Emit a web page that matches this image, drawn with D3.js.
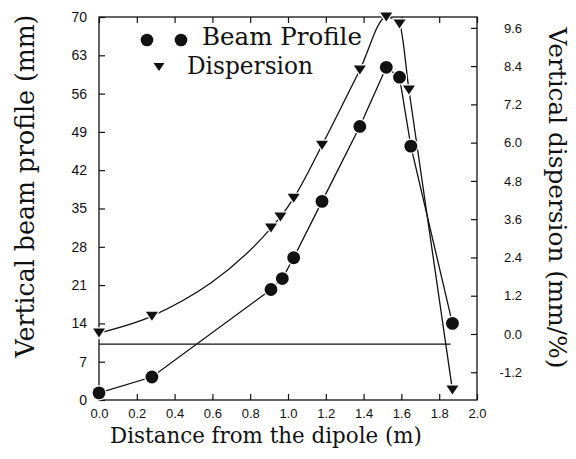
<!DOCTYPE html>
<html><head><meta charset="utf-8">
<script src="https://cdn.jsdelivr.net/npm/d3@7"></script>
<style>
html,body{margin:0;padding:0;background:#fff;}
svg{display:block;}
</style></head>
<body>
<svg id="chart" width="576" height="459"></svg>
<script>
// ---- data ----
const beamX = [0.0, 0.28, 0.91, 0.97, 1.03, 1.18, 1.38, 1.52, 1.59, 1.65, 1.87];
const beamY = [1.3, 4.2, 20.2, 22.2, 26.0, 36.3, 50.0, 60.8, 59.0, 46.4, 14.0];
const dispX = [0.0, 0.28, 0.91, 0.96, 1.03, 1.18, 1.38, 1.52, 1.59, 1.64, 1.87];
const dispY = [0.03, 0.56, 3.32, 3.67, 4.26, 5.92, 8.28, 9.94, 9.72, 7.65, -1.76];
const refLineY = 10.2;      // horizontal reference line (left axis units)
const refLineX = [0.0, 1.86];
const xTicks = [0.0, 0.2, 0.4, 0.6, 0.8, 1.0, 1.2, 1.4, 1.6, 1.8, 2.0];
const xTickLabels = ["0.0","0.2","0.4","0.6","0.8","1.0","1.2","1.4","1.6","1.8","2.0"];
const yLTicks = [0, 7, 14, 21, 28, 35, 42, 49, 56, 63, 70];
const yLTickLabels = ["0","7","14","21","28","35","42","49","56","63","70"];
const yRTicks = [-1.2, 0.0, 1.2, 2.4, 3.6, 4.8, 6.0, 7.2, 8.4, 9.6];
const yRTickLabels = ["-1.2","0.0","1.2","2.4","3.6","4.8","6.0","7.2","8.4","9.6"];
const legendLabels = ["Beam Profile", "Dispersion"];
const titles = {x: "Distance from the dipole (m)", yL: "Vertical beam profile (mm)", yR: "Vertical dispersion (mm/%)"};

// ---- layout ----
const L = 99, R = 477, T = 17, B = 400;
const svg = d3.select("#chart");
const x = d3.scaleLinear().domain([0, 2]).range([L, R]);
const yL = d3.scaleLinear().domain([0, 70]).range([B, T]);
const yR = d3.scaleLinear().domain([-2.07, 9.94]).range([B, T]);

const serif = "'DejaVu Serif', serif";
const sans = "'Liberation Sans', Arial, sans-serif";
const ink = "#111";

// fit a text element's font size so that its width equals a target length
function fit(sel, target) {
  const w = sel.node().getComputedTextLength();
  const fs = parseFloat(sel.attr("font-size"));
  sel.attr("font-size", (fs * target / w).toFixed(2));
  return sel;
}

// frame
svg.append("rect").attr("x", L).attr("y", T).attr("width", R - L).attr("height", B - T)
  .attr("fill", "none").attr("stroke", ink).attr("stroke-width", 1.3);

// bottom axis
const gx = svg.append("g").attr("transform", `translate(0,${B})`)
  .call(d3.axisBottom(x).tickValues(xTicks).tickSize(-6).tickPadding(9)
    .tickFormat((d, i) => xTickLabels[i]));
gx.select(".domain").remove();
gx.selectAll("line").attr("stroke", ink).attr("stroke-width", 1.2);
gx.selectAll("text").attr("font-family", sans).attr("font-size", 13).attr("fill", ink);

// top axis (ticks only)
const gt = svg.append("g").attr("transform", `translate(0,${T})`)
  .call(d3.axisTop(x).tickValues(xTicks).tickSize(-6).tickFormat(""));
gt.select(".domain").remove();
gt.selectAll("line").attr("stroke", ink).attr("stroke-width", 1.2);

// left axis
const gl = svg.append("g").attr("transform", `translate(${L},0)`)
  .call(d3.axisLeft(yL).tickValues(yLTicks).tickSize(-6).tickPadding(12)
    .tickFormat((d, i) => yLTickLabels[i]));
gl.select(".domain").remove();
gl.selectAll("line").attr("stroke", ink).attr("stroke-width", 1.2);
gl.selectAll("text").attr("font-family", sans).attr("font-size", 14).attr("fill", ink);

// right axis
const gr = svg.append("g").attr("transform", `translate(${R},0)`)
  .call(d3.axisRight(yR).tickValues(yRTicks).tickSize(-6).tickPadding(45)
    .tickFormat((d, i) => yRTickLabels[i]));
gr.select(".domain").remove();
gr.selectAll("line").attr("stroke", ink).attr("stroke-width", 1.2);
gr.selectAll("text").attr("font-family", sans).attr("font-size", 13).attr("fill", ink)
  .attr("text-anchor", "end");

// reference line
svg.append("line").attr("x1", x(refLineX[0])).attr("x2", x(refLineX[1]))
  .attr("y1", yL(refLineY)).attr("y2", yL(refLineY))
  .attr("stroke", ink).attr("stroke-width", 1.3);

// curves
const beam = beamX.map((v, i) => [v, beamY[i]]);
const disp = dispX.map((v, i) => [v, dispY[i]]);
const lineB = d3.line().x(d => x(d[0])).y(d => yL(d[1])).curve(d3.curveLinear);
const lineD = d3.line().x(d => x(d[0])).y(d => yR(d[1])).curve(d3.curveMonotoneX);
svg.append("path").attr("d", lineD(disp)).attr("fill", "none").attr("stroke", ink).attr("stroke-width", 1.3);
svg.append("path").attr("d", lineB(beam)).attr("fill", "none").attr("stroke", ink).attr("stroke-width", 1.3);

// markers
const tri = (cx, cy, w, h) => `M${cx - w / 2},${cy - h / 2}L${cx + w / 2},${cy - h / 2}L${cx},${cy + h / 2}Z`;
svg.append("g").selectAll("path").data(disp).join("path")
  .attr("d", d => tri(x(d[0]), yR(d[1]), 12, 9))
  .attr("fill", ink).attr("stroke", "#fff").attr("stroke-width", 2.5).attr("paint-order", "stroke");
svg.append("g").selectAll("circle").data(beam).join("circle")
  .attr("cx", d => x(d[0])).attr("cy", d => yL(d[1])).attr("r", 6.4)
  .attr("fill", ink).attr("stroke", "#fff").attr("stroke-width", 2.5).attr("paint-order", "stroke");

// legend
const lg = svg.append("g");
lg.append("circle").attr("cx", 147).attr("cy", 40).attr("r", 6.3).attr("fill", ink);
lg.append("circle").attr("cx", 181).attr("cy", 40).attr("r", 6.3).attr("fill", ink);
fit(lg.append("text").attr("x", 202).attr("y", 45).text(legendLabels[0])
  .attr("font-family", serif).attr("font-size", 23).attr("fill", ink), 160);
lg.append("path").attr("d", tri(159, 67, 11, 8)).attr("fill", ink);
fit(lg.append("text").attr("x", 187).attr("y", 74).text(legendLabels[1])
  .attr("font-family", serif).attr("font-size", 23).attr("fill", ink), 126);

// titles
fit(svg.append("text").attr("x", 266).attr("y", 443).attr("text-anchor", "middle")
  .attr("font-family", serif).attr("font-size", 21).attr("fill", ink).text(titles.x), 312);
fit(svg.append("text").attr("transform", "translate(34,186) rotate(-90)").attr("text-anchor", "middle")
  .attr("font-family", serif).attr("font-size", 21).attr("fill", ink).text(titles.yL), 343);
fit(svg.append("text").attr("transform", "translate(549,198) rotate(90)").attr("text-anchor", "middle")
  .attr("font-family", serif).attr("font-size", 21).attr("fill", ink).text(titles.yR), 341);
</script>
</body></html>
